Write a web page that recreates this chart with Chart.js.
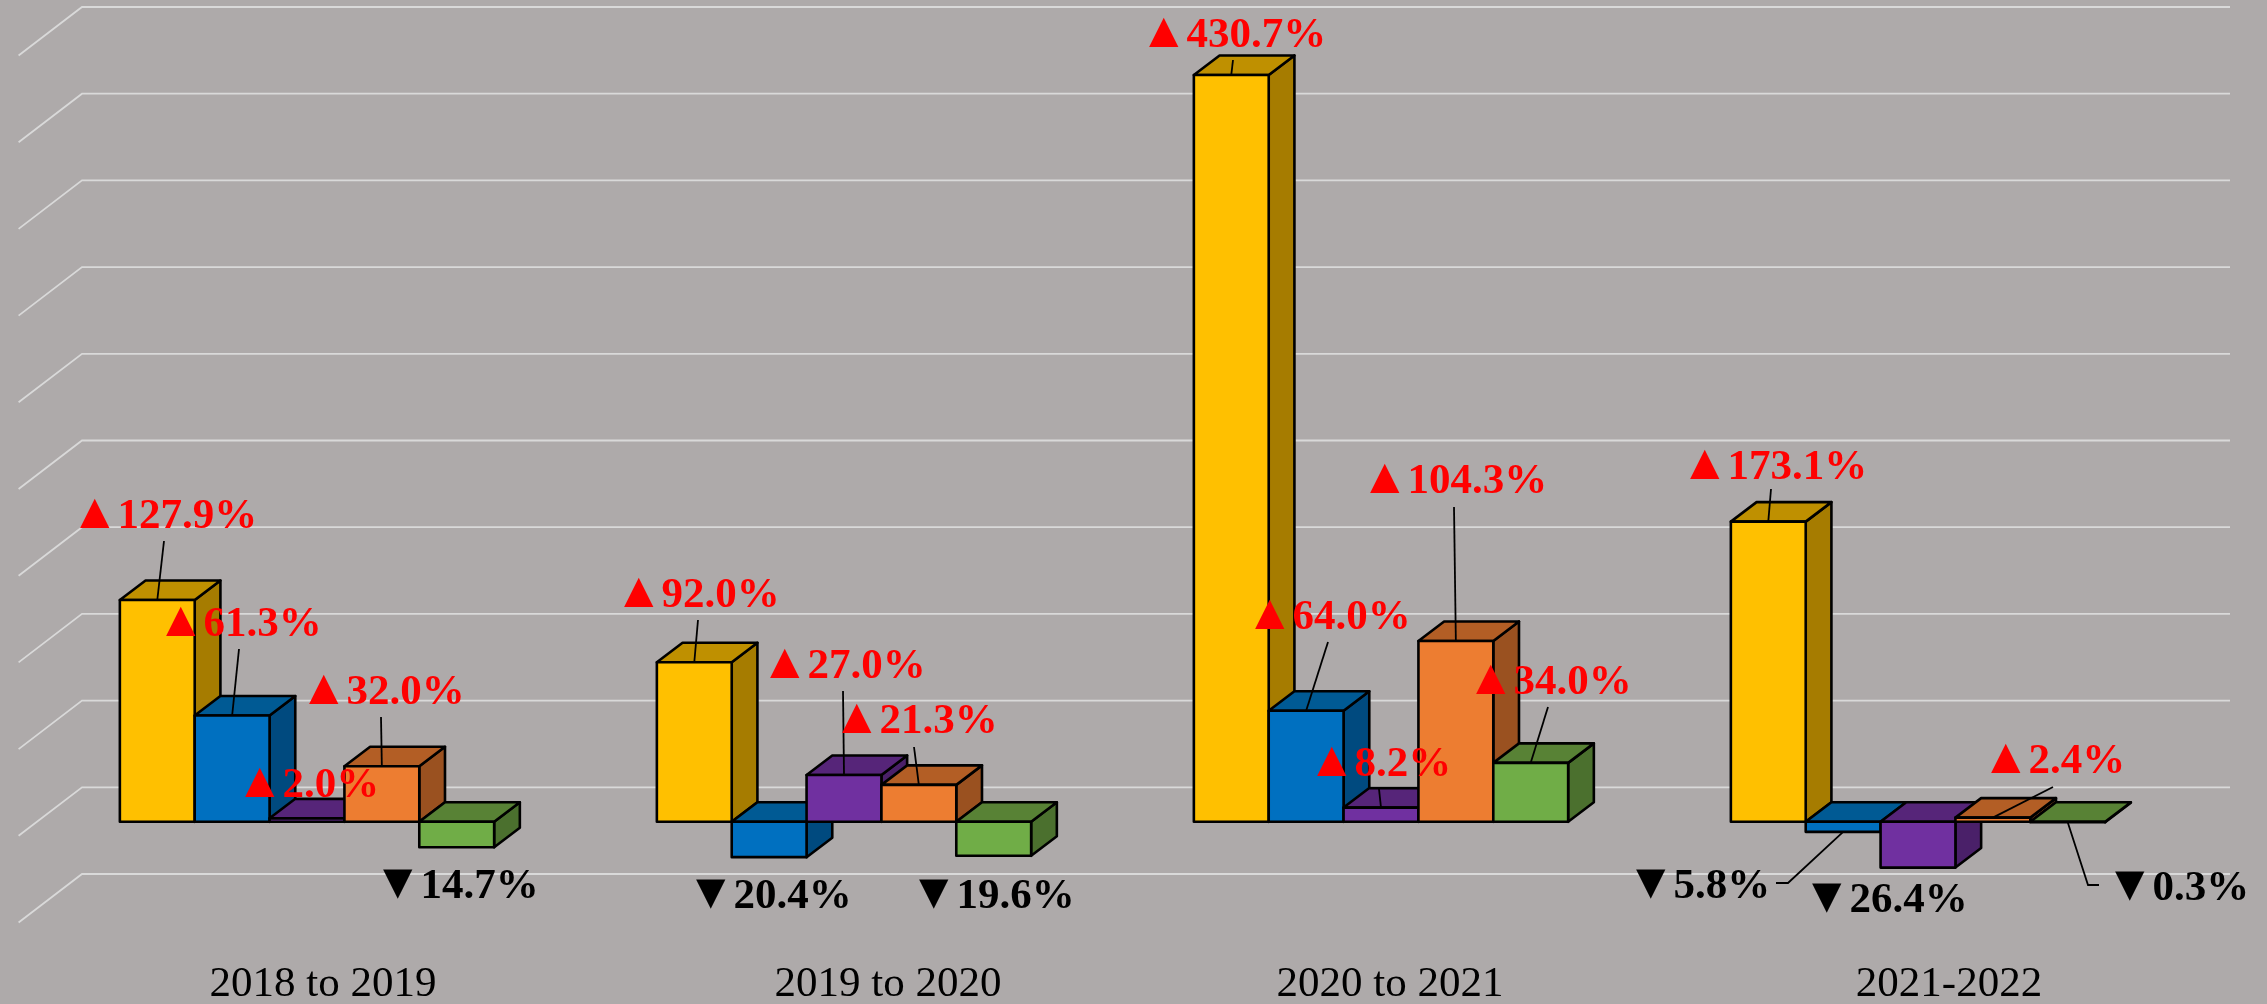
<!DOCTYPE html>
<html><head><meta charset="utf-8">
<style>html,body{margin:0;padding:0;background:#AEAAAA}canvas{display:block}</style>
<script src="https://cdn.jsdelivr.net/npm/chart.js@4/dist/chart.umd.min.js"></script>
</head><body>
<canvas id="c" width="2267" height="1004"></canvas>
<script>
// ---- data ----
const categories = ['2018 to 2019', '2019 to 2020', '2020 to 2021', '2021-2022'];
const seriesA = [127.9, 92.0, 430.7, 173.1];
const seriesB = [61.3, -20.4, 64.0, -5.8];
const seriesC = [2.0, 27.0, 8.2, -26.4];
const seriesD = [32.0, 21.3, 104.3, 2.4];
const seriesE = [-14.7, -19.6, 34.0, -0.3];

// ---- styles ----
const fronts = ['#FFC000', '#0070C0', '#7030A0', '#ED7D31', '#70AD47'];
const tops   = ['#BF9000', '#005A94', '#562579', '#B35E25', '#588235'];
const sides  = ['#A67C00', '#004A7F', '#4A2069', '#9A5120', '#4B702E'];

// ---- label layout: [left, baseline] per series, per category ----
const labelPos = [
  [[79,528],[623,607],[1148,47],[1689,479]],
  [[165,636],[695,908],[1254,629],[1635,898]],
  [[244,797],[769,678],[1316,776],[1811,912]],
  [[308,704],[841,733],[1369,493],[1990,773]],
  [[382,898],[918,908],[1475,694],[2114,900]]
];
// leader line points from the bar's top centre outward (null = no leader)
const leaders = [
  [[[164,541]],[[698,620]],[[1233,60]],[[1771,489]]],
  [[[239,649]],null,[[1328,642]],[[1788,883],[1776,883]]],
  [null,[[843,691]],[[1379,789]],null],
  [[[381,717]],[[914,747]],[[1454,507]],[[2053,787]]],
  [null,null,[[1548,707]],[[2088,885],[2099,885]]]
];
const categoryLabelCentres = [323, 888, 1390, 1949];
const categoryLabelBaseline = 996;
const barDepth = {dx: 25.7, dy: 19.5};
const wall = {dx: 43.5, dy: 34.5};
const floorFront = {dx: -19.9, dy: 14};
const triangleShift = -9;
const labelTextGap = 38.5;

const seriesList = [seriesA, seriesB, seriesC, seriesD, seriesE];

const trace = (ctx, pts) => {
  ctx.beginPath();
  pts.forEach((p, i) => i ? ctx.lineTo(p[0], p[1]) : ctx.moveTo(p[0], p[1]));
  ctx.closePath();
};
const outline = (ctx, pts) => {
  trace(ctx, pts);
  ctx.lineWidth = 2.6; ctx.strokeStyle = '#000'; ctx.lineJoin = 'round'; ctx.stroke();
};
const poly = (ctx, pts, fill) => {
  trace(ctx, pts);
  ctx.fillStyle = fill; ctx.fill();
  outline(ctx, pts);
};

const plugin3d = {
  id: 'plugin3d',
  beforeDraw(chart) {
    const ctx = chart.ctx, {chartArea: a, scales: {x, y}} = chart;
    ctx.save();
    ctx.fillStyle = '#AEAAAA';
    ctx.fillRect(0, 0, chart.width, chart.height);
    ctx.strokeStyle = '#D9D9D9'; ctx.lineWidth = 1.8;
    y.ticks.forEach((t, i) => {
      const py = y.getPixelForTick(i);
      ctx.beginPath();
      ctx.moveTo(a.left + floorFront.dx, py + floorFront.dy);
      ctx.lineTo(a.left + wall.dx, py - wall.dy);
      ctx.lineTo(a.right + wall.dx, py - wall.dy);
      ctx.stroke();
    });
    ctx.restore();
    // per-category placement of the axis labels
    x.getLabelItems(a).forEach((it, i) => {
      it.options.translation = [categoryLabelCentres[i], categoryLabelBaseline];
      it.options.textBaseline = 'alphabetic';
      it.options.textAlign = 'center';
      it.textOffset = 0;
    });
  },
  // painter's order: left-most series first, each later bar covers the previous side face
  beforeDatasetsDraw(chart) {
    const ctx = chart.ctx, y = chart.scales.y;
    const {dx, dy} = barDepth, zero = y.getPixelForValue(0);
    seriesList.forEach((vals, s) => {
      chart.getDatasetMeta(s).data.forEach(el => {
        const {x, y: vy, width} = el.getProps(['x', 'y', 'width'], true);
        const l = x - width / 2, r = x + width / 2;
        const top = Math.min(vy, zero), bot = Math.max(vy, zero);
        ctx.save();
        poly(ctx, [[r, top], [r + dx, top - dy], [r + dx, bot - dy], [r, bot]], sides[s]);
        poly(ctx, [[l, top], [l + dx, top - dy], [r + dx, top - dy], [r, top]], tops[s]);
        ctx.restore();
        el.draw(ctx);
        ctx.save();
        outline(ctx, [[l, top], [r, top], [r, bot], [l, bot]]);
        ctx.restore();
      });
    });
  },
  beforeDatasetDraw() { return false; },
  afterDatasetsDraw(chart) {
    const ctx = chart.ctx;
    ctx.save();
    ctx.strokeStyle = '#000'; ctx.lineWidth = 1.8;
    seriesList.forEach((vals, s) => {
      const meta = chart.getDatasetMeta(s);
      vals.forEach((v, c) => {
        const pts = leaders[s][c];
        if (pts) {
          const el = meta.data[c];
          ctx.beginPath();
          ctx.moveTo(el.x, el.y);
          pts.forEach(p => ctx.lineTo(p[0], p[1]));
          ctx.stroke();
        }
      });
    });
    ctx.textBaseline = 'alphabetic'; ctx.textAlign = 'left';
    seriesList.forEach((vals, s) => {
      vals.forEach((v, c) => {
        const [lx, ly] = labelPos[s][c];
        ctx.fillStyle = v >= 0 ? '#FF0000' : '#000000';
        ctx.font = 'bold 50px "Liberation Serif"';
        ctx.fillText(v >= 0 ? '\u25B2' : '\u25BC', lx + triangleShift, ly);
        ctx.font = 'bold 43px "Liberation Serif"';
        ctx.fillText(Math.abs(v).toFixed(1) + '%', lx + labelTextGap, ly);
      });
    });
    ctx.restore();
  }
};

new Chart(document.getElementById('c'), {
  type: 'bar',
  data: {
    labels: categories,
    datasets: seriesList.map((vals, s) => ({
      label: 'Series ' + (s + 1),
      data: vals,
      backgroundColor: fronts[s],
      borderWidth: 0,
      borderSkipped: false,
      clip: false,
      categoryPercentage: 0.697,
      barPercentage: 1
    }))
  },
  options: {
    responsive: false,
    animation: false,
    layout: {padding: {left: 38.5, right: 80.5, top: 41.5, bottom: 0}},
    plugins: {legend: {display: false}, title: {display: false}, tooltip: {enabled: false}},
    scales: {
      x: {
        grid: {display: false}, border: {display: false},
        ticks: {color: '#000', font: {family: '"Liberation Serif"', size: 43}, maxRotation: 0, autoSkip: false},
        afterFit(s) { s.height = 95.5; }
      },
      y: {
        display: false, min: -50, max: 450,
        ticks: {stepSize: 50}
      }
    }
  },
  plugins: [plugin3d]
});
</script>
</body></html>
